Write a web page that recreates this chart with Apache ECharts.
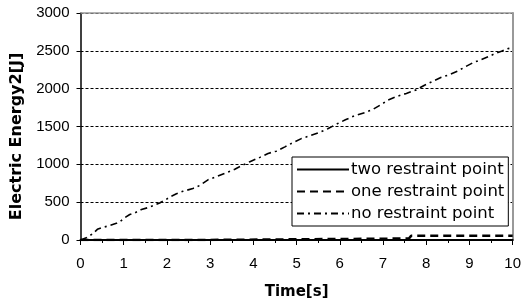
<!DOCTYPE html>
<html><head><meta charset="utf-8">
<script src="https://cdn.jsdelivr.net/npm/echarts@6/dist/echarts.min.js"></script>
<style>html,body{margin:0;padding:0;background:#fff}#c{width:524px;height:305px}</style>
</head><body><div id="c"></div>
<script>
var seriesNames = ['two restraint point', 'one restraint point', 'no restraint point'];
var xTicks = [0,1,2,3,4,5,6,7,8,9,10];
var yTicks = [0,500,1000,1500,2000,2500,3000];
var noTime = [0,0.15,0.29,0.39,0.49,0.64,0.83,0.91,1.02,1.14,1.26,1.41,1.60,1.83,1.95,2.10,2.22,2.37,2.60,2.76,2.95,3.15,3.34,3.57,3.76,3.92,4.15,4.34,4.53,4.73,4.92,5.11,5.34,5.53,5.72,5.94,6.13,6.33,6.58,6.77,6.95,7.12,7.32,7.54,7.77,7.96,8.12,8.35,8.54,8.73,8.89,9.08,9.28,9.43,9.58,9.74,9.89,10];
var noValue = [0,33,85,141,163,185,220,242,294,337,359,403,434,490,525,578,612,643,680,721,795,839,882,935,991,1035,1092,1144,1174,1231,1288,1340,1383,1422,1470,1536,1588,1640,1684,1728,1788,1850,1898,1937,1984,2046,2089,2150,2185,2233,2285,2342,2386,2421,2460,2494,2529,2540];
var oneTime = [0,2.7,2.71,7.6,7.65,10];
var oneValue = [0,0,20,20,55,55];
var twoTime = [0,10];
var twoValue = [0,0];

function pairs(a,b){return a.map(function(v,i){return [v,b[i]];});}

var chart = echarts.init(document.getElementById('c'), null, {renderer:'canvas'});
var lbl = {fontFamily:'Liberation Sans, Arial, sans-serif', fontSize:15, color:'#000'};
chart.setOption({
  animation:false,
  grid:{left:80.5, right:11, top:13, bottom:62.5, show:false},
  legend:{
    orient:'vertical', left:292, top:157,
    backgroundColor:'#fff', borderColor:'#000', borderWidth:1,
    padding:[4,4,4,4], itemGap:5, itemWidth:52, itemHeight:15,
    itemStyle:{opacity:0},
    textStyle:{fontFamily:'DejaVu Sans', fontSize:16.5, color:'#000', padding:[0,0,0,-3]},
    data:seriesNames
  },
  xAxis:[{
    type:'value', min:xTicks[0], max:xTicks[xTicks.length-1], interval:1,
    name:'Time[s]', nameLocation:'middle', nameGap:45,
    nameTextStyle:{fontFamily:'DejaVu Sans', fontWeight:'bold', fontSize:15, color:'#000'},
    axisLine:{show:true, lineStyle:{color:'#000', width:2}},
    axisTick:{show:true, length:5, lineStyle:{color:'#000'}},
    minorTick:{show:true, splitNumber:2, length:3, lineStyle:{color:'#000'}},
    axisLabel:Object.assign({margin:16}, lbl),
    splitLine:{show:false}
  },{
    type:'value', position:'top', min:0, max:10,
    axisLine:{show:true, onZero:false, lineStyle:{color:'#999', width:1.5}},
    axisTick:{show:false}, axisLabel:{show:false}, splitLine:{show:false}
  }],
  yAxis:[{
    type:'value', min:yTicks[0], max:yTicks[yTicks.length-1], interval:500,
    name:'Electric Energy2[J]', nameLocation:'middle', nameGap:51,
    nameTextStyle:{fontFamily:'DejaVu Sans', fontWeight:'bold', fontSize:16, color:'#000', padding:[0,20,0,0]},
    axisLine:{show:true, lineStyle:{color:'#000', width:1.5}},
    axisTick:{show:true, length:4, lineStyle:{color:'#000'}},
    axisLabel:Object.assign({margin:11, formatter:function(v){return String(v);}}, lbl),
    splitLine:{show:true, lineStyle:{color:'#000', width:1, type:[3,2]}}
  },{
    type:'value', position:'right', min:0, max:3000,
    axisLine:{show:true, onZero:false, lineStyle:{color:'#999', width:2}},
    axisTick:{show:false}, axisLabel:{show:false}, splitLine:{show:false}
  }],
  series:[
    {name:seriesNames[0], type:'line', symbol:'none', data:pairs(twoTime,twoValue),
     lineStyle:{color:'#000', width:1.5, type:'solid'}, itemStyle:{color:'#000'}, z:3},
    {name:seriesNames[1], type:'line', symbol:'none', data:pairs(oneTime,oneValue),
     lineStyle:{color:'#000', width:2.5, type:[8,5]}, itemStyle:{color:'#000'}, z:4},
    {name:seriesNames[2], type:'line', symbol:'none', data:pairs(noTime,noValue),
     lineStyle:{color:'#000', width:1.6, type:[7,4,2,4]}, itemStyle:{color:'#000'}, z:5}
  ]
});
</script></body></html>
